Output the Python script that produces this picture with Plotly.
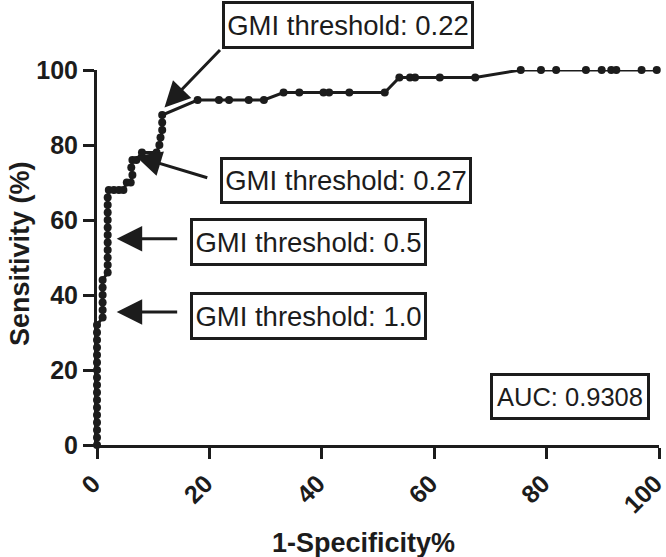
import plotly.graph_objects as go

# ---- data ----
fpr = ([0.0] * 17 + [1.0] * 6 + [1.9] * 11 +
       [2.1, 3.0, 3.9, 4.7, 5.3, 6.0, 6.3, 6.1, 6.3, 7.0, 8.0, 10.6,
        11.1, 11.3, 11.6, 11.6, 11.6,
        17.9, 21.7, 23.5, 27.0, 29.7,
        33.2, 36.0, 40.3, 41.3, 44.9, 51.2,
        53.8, 55.7, 56.6, 61.0, 67.3,
        75.4, 79.0, 81.7, 87.0, 89.8, 91.5, 92.4, 96.9, 99.6])
sens = (list(range(0, 33, 2)) + list(range(34, 45, 2)) + list(range(46, 67, 2)) +
        [68, 68, 68, 68, 70, 70, 72, 74, 76, 76, 78, 78,
         80, 82, 84, 86, 88,
         92, 92, 92, 92, 92,
         94, 94, 94, 94, 94, 94,
         98, 98, 98, 98, 98,
         100, 100, 100, 100, 100, 100, 100, 100, 100])

x_ticks = [0, 20, 40, 60, 80, 100]
y_ticks = [0, 20, 40, 60, 80, 100]

labels = ["GMI threshold: 0.22", "GMI threshold: 0.27",
          "GMI threshold: 0.5", "GMI threshold: 1.0"]
label_tip = [(12.0, 90.0), (6.9, 77.0), (3.5, 55.0), (3.5, 35.5)]
auc_text = "AUC: 0.9308"

# ---- layout geometry ----
W, H = 666, 557
L, R, T, B = 97, 7, 70, 112
PW, PH = W - L - R, H - T - B


def px(p):
    return (p - L) / PW


def py(p):
    return (T + PH - p) / PH


FONT = "Arial, Liberation Sans, Helvetica, sans-serif"
INK = "#1c1c1c"

fig = go.Figure()
fig.add_trace(go.Scatter(
    x=fpr, y=sens, mode="lines+markers",
    line=dict(color=INK, width=3),
    marker=dict(color=INK, size=8),
    cliponaxis=False, showlegend=False, hoverinfo="skip"))

# arrows (tail offsets in pixels)
arrow_tail = [(57, -59), (73, 22), (62, 0), (62, 0)]
for (tx, ty), (ax, ay) in zip(label_tip, arrow_tail):
    fig.add_annotation(x=tx, y=ty, xref="x", yref="y", text="",
                       showarrow=True, ax=ax, ay=ay,
                       arrowhead=2, arrowsize=1.7, arrowwidth=3,
                       arrowcolor=INK, standoff=0)

# label boxes: (center px x, center px y, width, height)
boxes = [(347.5, 25, 252, 48), (345.5, 180, 252, 47),
         (308, 242, 237, 48), (308, 316, 237, 48)]
for text, (cx, cy, bw, bh) in zip(labels, boxes):
    fig.add_annotation(x=px(cx), y=py(cy), xref="paper", yref="paper", text=text,
                       showarrow=False, xanchor="center", yanchor="middle",
                       width=bw - 6, height=bh - 6, borderpad=0,
                       bordercolor=INK, borderwidth=3, bgcolor="white",
                       font=dict(family=FONT, size=27.5, color=INK))

fig.add_annotation(x=px(570), y=py(396.7), xref="paper", yref="paper", text=auc_text,
                   showarrow=False, xanchor="center", yanchor="middle",
                   width=154, height=41, borderpad=0,
                   bordercolor=INK, borderwidth=3, bgcolor="white",
                   font=dict(family=FONT, size=25.5, color=INK))

# axis titles
fig.add_annotation(x=px(363), y=py(543), xref="paper", yref="paper",
                   text="1-Specificity%", showarrow=False,
                   xanchor="center", yanchor="middle",
                   font=dict(family=FONT, size=27, color=INK, weight="bold"))
fig.add_annotation(x=px(20), y=py(254), xref="paper", yref="paper",
                   text="Sensitivity (%)", showarrow=False, textangle=-90,
                   xanchor="center", yanchor="middle",
                   font=dict(family=FONT, size=27, color=INK, weight="bold"))

axis_common = dict(showline=True, linewidth=3, linecolor=INK,
                   ticks="outside", ticklen=11, tickwidth=3, tickcolor=INK,
                   showgrid=False, zeroline=False, range=[0, 100],
                   automargin=False, ticklabeloverflow="allow",
                   tickfont=dict(family=FONT, size=25, color=INK, weight="bold"))

fig.update_xaxes(tickvals=x_ticks, ticktext=[str(v) for v in x_ticks],
                 tickangle=-45, ticklabelshift=-4, **axis_common)
fig.update_yaxes(tickvals=y_ticks, ticktext=[str(v) for v in y_ticks],
                 **axis_common)

fig.update_layout(width=W, height=H, autosize=False,
                  margin=dict(l=L, r=R, t=T, b=B),
                  plot_bgcolor="white", paper_bgcolor="white",
                  font=dict(family=FONT))

fig.write_html("out.html",
               config={"displayModeBar": False, "staticPlot": True},
               post_script="document.body.style.margin='0';"
                           "document.body.style.overflow='hidden';")
